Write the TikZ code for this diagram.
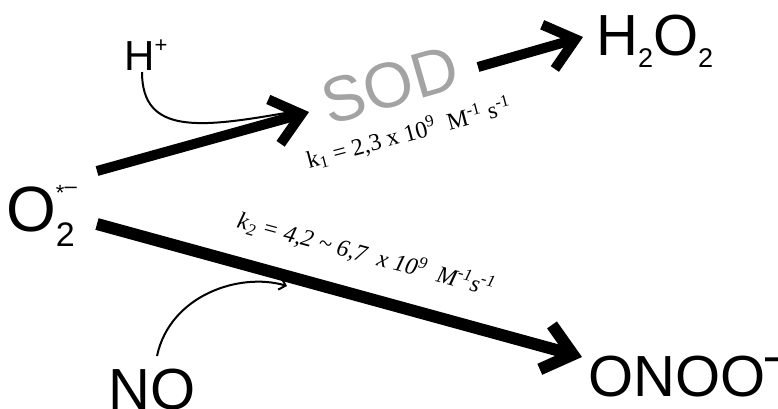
\documentclass[tikz,border=0pt]{standalone}
\usepackage{fontspec}
\usepackage{tikz}
\usetikzlibrary{arrows.meta,calc}
\setmainfont{Liberation Serif}
\newfontfamily\chemfont{Liberation Sans}
\definecolor{enzymegray}{HTML}{A3A3A3}
\newcommand{\chsub}[1]{\raisebox{-12pt}{\fontsize{27}{27}\selectfont #1}}
\tikzset{
  species/.style={inner sep=0pt,font=\chemfont\fontsize{58}{58}\selectfont},
  reagent/.style={inner sep=0pt,font=\chemfont\fontsize{42}{42}\selectfont},
  enzyme/.style={inner sep=0pt,text=enzymegray,font=\chemfont\fontsize{64}{64}\selectfont},
  rate/.style={inner sep=0pt,font=\fontsize{24}{24}\selectfont},
  bigarrow/.style={line width=10pt,-{Straight Barb[length=28pt,width=46pt]}},
  thinarrow/.style={line width=2pt,-{Straight Barb[length=6pt,width=12pt]}}
}

\begin{document}
\begin{tikzpicture}[x=1pt,y={(0pt,-1pt)}]
  \useasboundingbox (0,0) rectangle (778,408);
  % species
  \node[species,anchor=base west,font=\chemfont\fontsize{64}{64}\selectfont] (sup) at (6,231)
    {O\rlap{\raisebox{31pt}{\fontsize{22}{22}\selectfont *\raisebox{7pt}{\textendash}}}\raisebox{-15pt}{\fontsize{34}{34}\selectfont 2}};
  \node[reagent,anchor=base west] (hplus) at (124,70) {H\raisebox{18pt}{\fontsize{22}{22}\selectfont +}};
  \node[enzyme,rotate=16] (sod) at (390,85) {SOD};
  \node[species,anchor=base west] (perox) at (596,55) {H\chsub{2}O\chsub{2}};
  \node[species,anchor=base west] (no) at (108,409) {NO};
  \node[species,anchor=base west] (onoo) at (588,396) {ONOO\raisebox{22pt}{\textendash}};
  % rate constants
  \node[rate,anchor=base,rotate=15] (k1) at (411,141)
    {k\textsubscript{1} = 2,3 x 10\textsuperscript{9}~ M\textsuperscript{-1} s\textsuperscript{-1}};
  \node[rate,anchor=base,rotate=-15] (k2) at (364,262)
    {\itshape k\textsubscript{2} = 4,2 \textasciitilde{} 6,7~ x 10\textsuperscript{9}~ M\textsuperscript{-1}s\textsuperscript{-1}};
  % arrow ends
  \coordinate (a1s) at (97,171);
  \coordinate (a1e) at (309,112);
  \coordinate (a2s) at (478,67);
  \coordinate (a2e) at (583,37);
  \coordinate (a3s) at (97,224);
  \coordinate (a3e) at (582,357);
  \draw[bigarrow] (a1s) -- (a1e);
  \draw[bigarrow] (a2s) -- (a2e);
  \draw[bigarrow,line width=12pt] (a3s) -- (a3e);
  % side reactants
  \coordinate (h1) at (142,72);
  \coordinate (h2) at (291,112);
  \draw[thinarrow] (h1) .. controls (142,135) and (200,128) .. (h2);
  \coordinate (n1) at (157,356);
  \coordinate (n2) at (287,286);
  \draw[thinarrow] (n1) .. controls (170,295) and (240,272) .. (n2);
\end{tikzpicture}
\end{document}
